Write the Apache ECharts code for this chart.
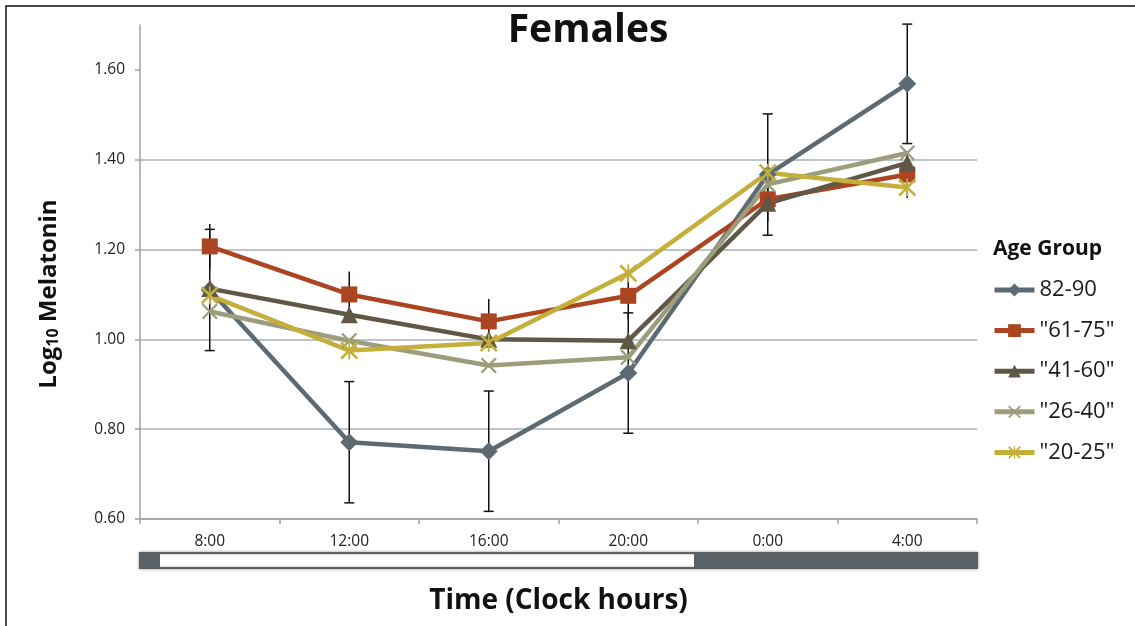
<!DOCTYPE html>
<html>
<head>
<meta charset="utf-8">
<script src="https://cdn.jsdelivr.net/npm/echarts@6/dist/echarts.min.js"></script>
<style>
  html, body { margin: 0; padding: 0; background: #fff; }
  #chart { width: 1135px; height: 626px; }
</style>
</head>
<body>
<div id="chart"></div>
<script>
// ---- Data ----
const categories = ['8:00', '12:00', '16:00', '20:00', '0:00', '4:00'];
const seriesNames = ['82-90', '"61-75"', '"41-60"', '"26-40"', '"20-25"'];
const v8290 = [1.110, 0.771, 0.751, 0.925, 1.367, 1.569];
const v6175 = [1.207, 1.100, 1.040, 1.097, 1.312, 1.367];
const v4160 = [1.113, 1.055, 1.000, 0.997, 1.303, 1.393];
const v2640 = [1.062, 0.997, 0.942, 0.960, 1.345, 1.415];
const v2025 = [1.098, 0.975, 0.992, 1.147, 1.371, 1.338];
const err8290 = [0.135, 0.135, 0.134, 0.134, 0.135, 0.133];
const err6175 = [0.050, 0.051, 0.050, 0.052, 0.050, 0.052];
const yTicks = [0.6, 0.8, 1.0, 1.2, 1.4, 1.6];

// ---- Styles ----
const FONT = '"Open Sans", Lato, sans-serif';
const colors = ['#5d6a71', '#ab4420', '#5f5847', '#9c9d7c', '#c4af3b'];
const xPath = 'path://M0,2 L2,0 L10,8 L18,0 L20,2 L12,10 L20,18 L18,20 L10,12 L2,20 L0,18 L8,10 Z';
const starPath = 'path://M0,2 L2,0 L10,8 L18,0 L20,2 L12,10 L20,18 L18,20 L10,12 L2,20 L0,18 L8,10 Z M9,0 L11,0 L11,20 L9,20 Z';
const symbols = ['diamond', 'rect', 'triangle', xPath, starPath];
const symbolSizes = [18, 16, 17, 16, 18];
const valueLists = [v8290, v6175, v4160, v2640, v2025];

function lineSeries(i) {
  return {
    type: 'line',
    name: seriesNames[i],
    data: valueLists[i],
    symbol: symbols[i],
    symbolSize: symbolSizes[i],
    showAllSymbol: true,
    z: 3,
    lineStyle: { color: colors[i], width: 4.5 },
    itemStyle: { color: colors[i], borderWidth: 0 },
    emphasis: { disabled: true },
    animation: false
  };
}

function errSeries(name, vals, errs, withCap) {
  return {
    type: 'custom',
    name: name + ' err',
    z: 1,
    silent: true,
    animation: false,
    data: vals.map((v, i) => [i, v - errs[i], v + errs[i]]),
    renderItem: function (params, api) {
      const lo = api.coord([api.value(0), api.value(1)]);
      const hi = api.coord([api.value(0), api.value(2)]);
      const st = { stroke: '#111', lineWidth: 1.5 };
      const children = [{ type: 'line', shape: { x1: lo[0], y1: lo[1], x2: hi[0], y2: hi[1] }, style: st }];
      if (withCap) {
        const w = 5;
        children.push({ type: 'line', shape: { x1: lo[0] - w, y1: lo[1], x2: lo[0] + w, y2: lo[1] }, style: st });
        children.push({ type: 'line', shape: { x1: hi[0] - w, y1: hi[1], x2: hi[0] + w, y2: hi[1] }, style: st });
      }
      return { type: 'group', children: children };
    }
  };
}

const chart = echarts.init(document.getElementById('chart'), null, { renderer: 'canvas' });

const option = {
  backgroundColor: '#ffffff',
  animation: false,
  textStyle: { fontFamily: FONT },
  title: [
    {
      text: 'Females',
      left: 583, top: 6, textAlign: 'center',
      textStyle: { fontFamily: FONT, fontSize: 39, fontWeight: 'bold', color: '#111' }
    },
    {
      text: 'Age Group',
      left: 988, top: 234,
      textStyle: { fontFamily: FONT, fontSize: 21, fontWeight: 'bold', color: '#111' }
    }
  ],
  legend: {
    data: seriesNames,
    orient: 'vertical',
    left: 992, top: 279,
    padding: 0,
    itemWidth: 40, itemHeight: 16, itemGap: 18.6,
    selectedMode: false,
    lineStyle: { width: 5 },
    textStyle: { fontFamily: FONT, fontSize: 22, color: '#1a1a1a', lineHeight: 22 }
  },
  grid: { left: 140, right: 158, top: 25, bottom: 107, containLabel: false },
  xAxis: {
    type: 'category',
    data: categories,
    boundaryGap: true,
    name: 'Time (Clock hours)',
    nameLocation: 'middle',
    nameGap: 68,
    nameTextStyle: { fontFamily: FONT, fontSize: 28, fontWeight: 'bold', color: '#111' },
    axisLine: { lineStyle: { color: '#9aa1a6', width: 1.5 } },
    axisTick: { show: true, length: 5, lineStyle: { color: '#9aa1a6', width: 1.5 } },
    axisLabel: { fontFamily: FONT, fontSize: 15.5, color: '#222', margin: 15 },
    splitLine: { show: false }
  },
  yAxis: {
    type: 'value',
    min: 0.6, max: 1.7, interval: 0.2,
    name: '{a|Log}{b|10}{a| Melatonin}',
    nameLocation: 'middle',
    nameRotate: 90,
    nameGap: 79,
    nameTextStyle: {
      padding: [0, 44, 0, 0],
      rich: {
        a: { fontFamily: FONT, fontSize: 24, fontWeight: 'bold', color: '#111', lineHeight: 30, verticalAlign: 'bottom' },
        b: { fontFamily: FONT, fontSize: 16, fontWeight: 'bold', color: '#111', lineHeight: 30, verticalAlign: 'bottom', padding: [13, 0, 0, 0] }
      }
    },
    axisLine: { show: true, lineStyle: { color: '#9aa1a6', width: 1.5 } },
    axisTick: { show: true, length: 5, customValues: yTicks, lineStyle: { color: '#9aa1a6', width: 1.5 } },
    axisLabel: {
      customValues: yTicks,
      fontFamily: FONT, fontSize: 15.5, color: '#222', margin: 15,
      formatter: v => Number(v).toFixed(2)
    },
    splitLine: { show: true, showMaxLine: false, lineStyle: { color: '#a9b0b5', width: 1.5 } }
  },
  series: [
    errSeries('82-90', v8290, err8290, true),
    errSeries('61-75', v6175, err6175, false),
    lineSeries(0), lineSeries(1), lineSeries(2), lineSeries(3), lineSeries(4)
  ]
};

chart.setOption(option);

// Decorative light/dark bar below the axis, positioned from the category axis
const c0 = chart.convertToPixel({ xAxisIndex: 0 }, 0);
const c1 = chart.convertToPixel({ xAxisIndex: 0 }, 1);
const bw = c1 - c0;
const axisLeft = c0 - bw / 2;
const axisRight = axisLeft + bw * categories.length;
const darkStart = axisLeft + bw * 4 - 4;
const barY = 553, barH = 15;
chart.setOption({
  graphic: [
    { type: 'rect', silent: true, shape: { x: 6, y: 6, width: 1140, height: 640 },
      style: { fill: 'none', stroke: '#111', lineWidth: 1.5 } },
    { type: 'rect', silent: true, shape: { x: axisLeft, y: barY, width: axisRight - axisLeft, height: barH },
      style: { fill: '#ffffff', stroke: '#5a6166', lineWidth: 2, shadowBlur: 3, shadowColor: 'rgba(0,0,0,0.35)' } },
    { type: 'rect', silent: true, shape: { x: axisLeft, y: barY, width: 20, height: barH },
      style: { fill: '#5a6166' } },
    { type: 'rect', silent: true, shape: { x: darkStart, y: barY, width: axisRight - darkStart, height: barH, r: [0, 3, 3, 0] },
      style: { fill: '#5a6166' } }
  ]
});
</script>
</body>
</html>
